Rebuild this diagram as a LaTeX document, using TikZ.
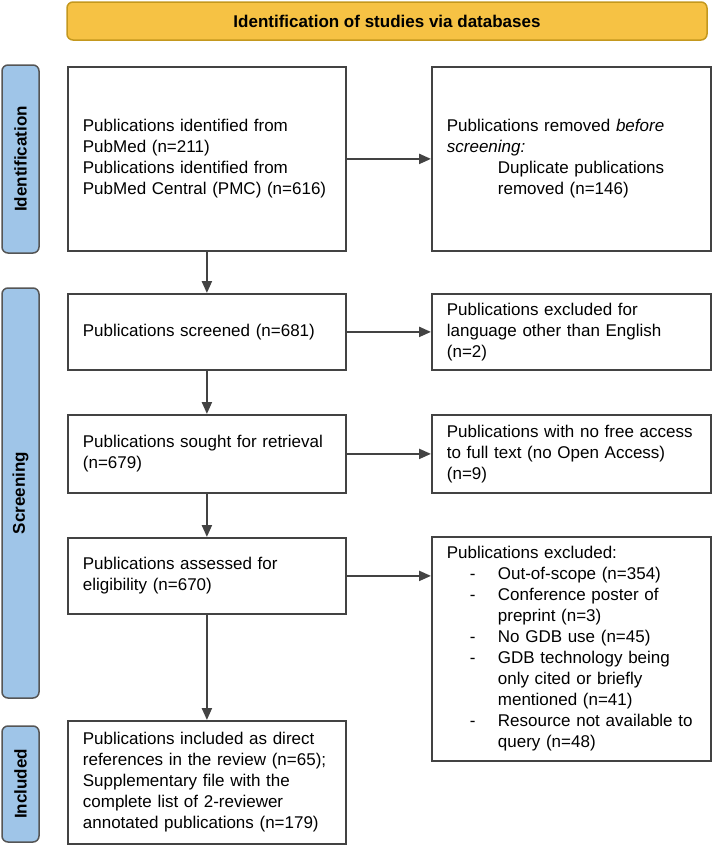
\documentclass[tikz,border=0pt]{standalone}
\usepackage{fontspec}
\setmainfont{Liberation Sans}
\usepackage{xcolor}
\usetikzlibrary{arrows.meta}

\definecolor{headfill}{RGB}{246,194,68}
\definecolor{headline}{RGB}{196,152,30}
\definecolor{sidefill}{RGB}{159,197,232}
\definecolor{sideline}{RGB}{85,85,85}
\definecolor{boxline}{RGB}{67,67,67}

\newcommand{\indentitem}{\hspace*{51pt}}
\newcommand{\dashitem}{\hspace*{23pt}\makebox[28pt][l]{-}}

\begin{document}
\begin{tikzpicture}[
  x=1pt, y=-1pt,
  font=\fontsize{17}{21}\selectfont,
  box/.style={
    draw=boxline,
    line width=1.8pt,
    anchor=north west,
    inner xsep=15pt,
    inner ysep=4pt,
    align=left
  },
  leftbox/.style={box, text width=248pt},
  rightbox/.style={box, text width=249pt},
  sidelabel/.style={
    draw=sideline,
    fill=sidefill,
    line width=1.5pt,
    rounded corners=6pt,
    rotate=90,
    minimum height=37pt,
    inner sep=0pt,
    font=\fontsize{17}{20}\selectfont\bfseries
  },
  arrow/.style={
    draw=boxline,
    line width=2.2pt,
    -{Triangle[length=12pt,width=10pt]}
  }
]
  \useasboundingbox (0,0) rectangle (712,846);

  % header
  \node[draw=headline, fill=headfill, line width=1.5pt, rounded corners=6pt,
    minimum width=640pt, minimum height=38pt, font=\fontsize{17}{21}\selectfont\bfseries]
    (head) at (387,21) {Identification of studies via databases};

  % phase labels
  \node[sidelabel, minimum width=188pt] (lblident) at (20.5,159) {Identification};
  \node[sidelabel, minimum width=410pt] (lblscreen) at (20.5,493) {Screening};
  \node[sidelabel, minimum width=116pt] (lblincl) at (20.5,784) {Included};

  % main column
  \node[leftbox, minimum height=184pt] (ident) at (67,66)
    {Publications identified from\\
     PubMed (n=211)\\
     Publications identified from\\
     PubMed Central (PMC) (n=616)};
  \node[leftbox, minimum height=76pt] (screened) at (67,293)
    {Publications screened (n=681)};
  \node[leftbox, minimum height=78pt] (sought) at (67,414)
    {Publications sought for retrieval\\
     (n=679)};
  \node[leftbox, minimum height=76pt] (assessed) at (67,537)
    {Publications assessed for\\
     eligibility (n=670)};
  \node[leftbox, minimum height=123pt] (incl) at (67,720)
    {Publications included as direct\\
     references in the review (n=65);\\
     Supplementary file with the\\
     complete list of 2-reviewer\\
     annotated publications (n=179)};

  % side column
  \node[rightbox, minimum height=184pt] (removed) at (431,66)
    {Publications removed \textit{before}\\
     \textit{screening:}\\
     \indentitem Duplicate publications\\
     \indentitem removed (n=146)};
  \node[rightbox, minimum height=76pt] (lang) at (431,293)
    {Publications excluded for\\
     language other than English\\
     (n=2)};
  \node[rightbox, minimum height=78pt] (access) at (431,414)
    {Publications with no free access\\
     to full text (no Open Access)\\
     (n=9)};
  \node[rightbox, minimum height=224pt] (excl) at (431,536)
    {Publications excluded:\\
     \dashitem Out-of-scope (n=354)\\
     \dashitem Conference poster of\\
     \indentitem preprint (n=3)\\
     \dashitem No GDB use (n=45)\\
     \dashitem GDB technology being\\
     \indentitem only cited or briefly\\
     \indentitem mentioned (n=41)\\
     \dashitem Resource not available to\\
     \indentitem query (n=48)};

  % arrows
  \draw[arrow] (ident) -- (screened);
  \draw[arrow] (screened) -- (sought);
  \draw[arrow] (sought) -- (assessed);
  \draw[arrow] (assessed) -- (incl);
  \draw[arrow] (ident) -- (removed);
  \draw[arrow] (screened) -- (lang);
  \draw[arrow] (sought) -- (access);
  \draw[arrow] (assessed.east) -- (assessed.east -| excl.west);
\end{tikzpicture}
\end{document}
